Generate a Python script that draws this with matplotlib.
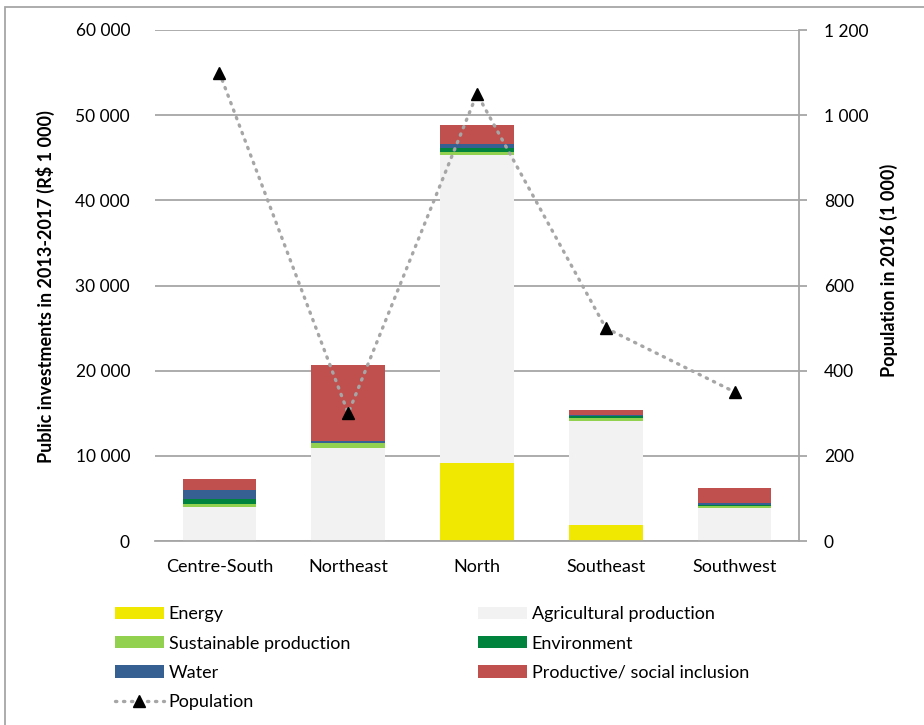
import numpy as np
import matplotlib
matplotlib.use("Agg")
import matplotlib.pyplot as plt
from matplotlib.patches import Patch, Rectangle
from matplotlib.lines import Line2D
from matplotlib.ticker import FuncFormatter

plt.rcParams['font.family'] = ['Lato', 'DejaVu Sans']

# data (R$ 1 000 and 1 000 people)
regions = ['Centre-South', 'Northeast', 'North', 'Southeast', 'Southwest']
energy = [0, 0, 9150, 1850, 0]
agricultural = [4030, 10950, 36150, 12250, 3900]
sustainable = [350, 550, 430, 350, 250]
environment = [520, 60, 470, 270, 60]
water = [1090, 230, 390, 50, 200]
productive = [1290, 8840, 2230, 670, 1800]
population = [1100, 300, 1050, 500, 350]

series = [
    ('Energy', energy, '#F0E800'),
    ('Agricultural production', agricultural, '#F2F2F2'),
    ('Sustainable production', sustainable, '#92D050'),
    ('Environment', environment, '#00843D'),
    ('Water', water, '#376092'),
    ('Productive/ social inclusion', productive, '#C0504D'),
]

fig = plt.figure(figsize=(9.24, 7.25), dpi=100)
ax = fig.add_axes([155/924, 1 - 541/725, (799 - 155)/924, (541 - 30)/725])

x = np.arange(len(regions))
bottom = np.zeros(len(regions))
for name, vals, col in series:
    ax.bar(x, vals, width=0.57, bottom=bottom, color=col, zorder=2)
    bottom += np.array(vals)

grid_col = '#A6A6A6'
fmt = FuncFormatter(lambda v, p: f"{int(v):,}".replace(',', ' '))
ax.set_xlim(-0.5, 4.5)
ax.set_ylim(0, 60000)
ax.set_yticks(np.arange(0, 60001, 10000))
ax.yaxis.set_major_formatter(fmt)
ax.grid(axis='y', color=grid_col, linewidth=1.3, zorder=0)
ax.set_axisbelow(True)
ax.set_xticks(x)
ax.set_xticklabels(regions)
ax.tick_params(axis='x', length=0, pad=13, labelsize=13)
ax.tick_params(axis='y', length=0, pad=18, labelsize=12.5)
for s in ['top', 'left', 'right']:
    ax.spines[s].set_visible(False)
ax.spines['bottom'].set_color(grid_col)
ax.spines['bottom'].set_linewidth(1.3)

# population on the secondary axis
dots = (0, (0.4, 2.0))
ax2 = ax.twinx()
ax2.plot(x, population, color='#A6A6A6', linestyle=dots, linewidth=2.4,
         dash_capstyle='round', zorder=3)
ax2.plot(x, population, linestyle='none', marker='^', color='black', markersize=9, zorder=4)
ax2.set_ylim(0, 1200)
ax2.set_yticks(np.arange(0, 1201, 200))
ax2.yaxis.set_major_formatter(fmt)
ax2.tick_params(axis='y', length=6, width=1.3, color=grid_col, pad=12, labelsize=12.5)
for s in ['top', 'left', 'bottom']:
    ax2.spines[s].set_visible(False)
ax2.spines['right'].set_color(grid_col)
ax2.spines['right'].set_linewidth(1.3)

fig.text(45/924, 1 - 287/725, 'Public investments in 2013-2017 (R$ 1 000)', rotation=90,
         ha='center', va='center', fontsize=13, fontweight='bold')
fig.text(889/924, 1 - 270/725, 'Population in 2016 (1 000)', rotation=90,
         ha='center', va='center', fontsize=13, fontweight='bold')

# legend in two columns
h = {name: Patch(facecolor=col) for name, vals, col in series}
pop_handle = Line2D([], [], color='#A6A6A6', linestyle=dots, linewidth=2.4,
                    dash_capstyle='round', marker='^', markerfacecolor='black',
                    markeredgecolor='black', markersize=9)
col1 = ['Energy', 'Sustainable production', 'Water']
col2 = ['Agricultural production', 'Environment', 'Productive/ social inclusion']
leg_kw = dict(frameon=False, fontsize=13, handlelength=2.7, handleheight=0.65,
              handletextpad=0.28, labelspacing=0.73, borderpad=0, borderaxespad=0,
              loc='upper left')
fig.legend([h[n] for n in col1] + [pop_handle], col1 + ['Population'],
           bbox_to_anchor=(115/924, 1 - 606.5/725), **leg_kw)
fig.legend([h[n] for n in col2], col2, bbox_to_anchor=(478/924, 1 - 606.5/725), **leg_kw)

# chart border
fig.patches.append(Rectangle((5/924, -0.1), 1.2, 1 - 7/725 + 0.1, transform=fig.transFigure,
                             fill=False, edgecolor='#A6A6A6', linewidth=1.3))

fig.savefig('out.png', dpi=100)
